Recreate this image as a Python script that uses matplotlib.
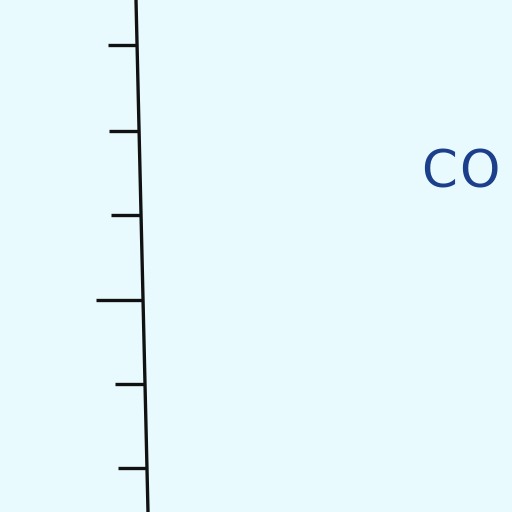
import matplotlib
matplotlib.use('Agg')
import matplotlib.pyplot as plt

# axis fragment: tick positions (pixels from top) and their left ends
tick_pos = [45, 131, 215, 300, 384, 468]
tick_left = [108, 109, 111, 96, 115, 118]
axis_top = (136, 0)
axis_bottom = (148, 512)
label_text = 'CO'
label_x = [421, 459]   # left edge of each letter (wide lettering)

bg = '#E8FAFD'

fig = plt.figure(figsize=(5.12, 5.12), dpi=100, facecolor=bg)
ax = fig.add_axes([0, 0, 1, 1], facecolor=bg)
ax.set_xlim(0, 512)
ax.set_ylim(512, 0)
ax.axis('off')

# slanted axis line
ax.plot([axis_top[0], axis_bottom[0]], [axis_top[1], axis_bottom[1]],
        color='#111111', lw=2.4, solid_capstyle='butt')

# tick marks, ending at the axis line
slope = (axis_bottom[0] - axis_top[0]) / (axis_bottom[1] - axis_top[1])
for y, x0 in zip(tick_pos, tick_left):
    x1 = axis_top[0] + slope * (y - axis_top[1])
    ax.plot([x0, x1], [y, y], color='#111111', lw=2.4, solid_capstyle='butt')

for ch, x in zip(label_text, label_x):
    ax.text(x, 188, ch, color='#1B3F8B', fontsize=37,
            fontweight='normal', family='DejaVu Sans', ha='left', va='baseline')

fig.savefig('out.png', dpi=100, facecolor=bg)
